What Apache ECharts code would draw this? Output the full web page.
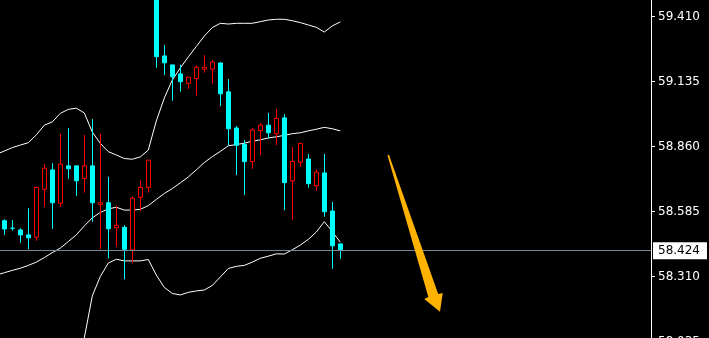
<!DOCTYPE html>
<html><head><meta charset="utf-8">
<script src="https://cdn.jsdelivr.net/npm/echarts@6/dist/echarts.min.js"></script>
<style>html,body{margin:0;padding:0;background:#000;}#c{width:709px;height:338px;}</style>
</head><body><div id="c"></div>
<script>
// Candles (index = position on the time axis)
const opens  = [58.547,58.515,58.508,58.487,58.477,58.680,58.762,58.621,58.779,58.779,58.726,58.779,58.616,58.623,58.517,58.519,58.423,58.646,58.688,59.600,59.244,59.206,59.168,59.128,59.148,59.188,59.188,59.214,59.092,58.939,58.870,58.797,58.928,58.951,58.915,58.982,58.716,58.794,58.808,58.695,58.749,58.588,58.449];
const closes = [58.512,58.515,58.487,58.475,58.688,58.769,58.623,58.786,58.767,58.716,58.779,58.623,58.623,58.513,58.528,58.426,58.642,58.688,58.803,59.241,59.215,59.156,59.135,59.154,59.196,59.196,59.218,59.084,58.936,58.866,58.797,58.931,58.951,58.919,58.980,58.708,58.798,58.874,58.704,58.752,58.585,58.441,58.424];
const lows   = [58.487,58.505,58.454,58.426,58.462,58.606,58.513,58.606,58.725,58.652,58.666,58.543,58.426,58.388,58.437,58.299,58.369,58.589,58.666,59.194,59.163,59.055,59.093,59.104,59.076,59.173,59.127,59.032,58.866,58.740,58.656,58.766,58.825,58.896,58.867,58.592,58.550,58.775,58.687,58.674,58.564,58.344,58.386];
const highs  = [58.553,58.550,58.515,58.600,58.690,58.787,58.790,58.914,58.939,58.779,58.910,58.977,58.914,58.733,58.609,58.528,58.649,58.719,58.803,59.620,59.290,59.206,59.206,59.154,59.204,59.248,59.227,59.218,59.146,58.948,58.888,58.939,58.960,59.003,59.020,58.998,58.859,58.874,58.829,58.764,58.829,58.626,58.449];

// Bollinger bands, starting one bar before the first visible candle
const bandStart = -1;
const bbUpper  = [58.827,58.842,58.856,58.867,58.877,58.910,58.951,58.965,59.001,59.018,59.023,59.003,58.922,58.874,58.839,58.825,58.810,58.807,58.817,58.846,58.969,59.066,59.142,59.193,59.240,59.284,59.328,59.364,59.382,59.379,59.382,59.382,59.382,59.389,59.396,59.399,59.399,59.393,59.385,59.375,59.365,59.345,59.371,59.388];
const bbMiddle = [58.317,58.327,58.337,58.346,58.358,58.372,58.391,58.412,58.431,58.459,58.487,58.525,58.559,58.582,58.597,58.604,58.592,58.592,58.595,58.611,58.637,58.662,58.683,58.707,58.732,58.762,58.793,58.818,58.840,58.864,58.869,58.875,58.883,58.889,58.897,58.902,58.908,58.915,58.919,58.927,58.934,58.942,58.936,58.927];
const bbLower  = [57.808,57.812,57.819,57.825,57.838,57.835,57.832,57.859,57.861,57.900,57.951,58.051,58.229,58.311,58.368,58.384,58.377,58.377,58.377,58.383,58.317,58.265,58.239,58.233,58.244,58.250,58.254,58.273,58.309,58.345,58.354,58.358,58.372,58.388,58.397,58.407,58.406,58.424,58.444,58.468,58.499,58.543,58.501,58.456];

const yTicks = [58.310, 58.585, 58.860, 59.135, 59.410];
const yTickBelow = 58.035;   // next tick, just under the visible window
const lastPrice = 58.424;
// Arrow annotation anchors [bar index, price]
const arrowFrom = [48.0, 58.825];
const arrowTo   = [54.46, 58.162];

const chart = echarts.init(document.getElementById('c'), null, {renderer: 'canvas'});
const candleData = opens.map((o, i) => [i, o, closes[i], lows[i], highs[i]]);
const band = arr => arr.map((v, k) => [bandStart + k, v]);
const lineSeries = arr => ({
  type: 'line', data: band(arr), symbol: 'none', silent: true,
  lineStyle: {color: '#ffffff', width: 1}, z: 2
});
const labelFont = {fontFamily: 'DejaVu Sans', fontSize: 12};

chart.setOption({
  backgroundColor: '#000000',
  animation: false,
  grid: {left: 0, right: 58, top: 0, bottom: 0},
  xAxis: {type: 'value', min: -0.5375, max: 80.8375, show: false},
  yAxis: {
    type: 'value', position: 'right', min: 58.0509, max: 59.4806,
    axisLine: {show: true, onZero: false, lineStyle: {color: '#ffffff', width: 1}},
    axisTick: {show: true, length: 4, lineStyle: {color: '#ffffff'}, customValues: yTicks},
    axisLabel: Object.assign({customValues: yTicks, margin: 7, color: '#ffffff',
      formatter: v => v.toFixed(3)}, labelFont),
    splitLine: {show: false}
  },
  series: [
    lineSeries(bbUpper), lineSeries(bbMiddle), lineSeries(bbLower),
    {
      type: 'candlestick', data: candleData, barWidth: 4, z: 3,
      itemStyle: {color: '#000000', color0: '#00ffff', borderColor: '#ff0000', borderColor0: '#00ffff',
        borderColorDoji: '#00ffff', borderWidth: 1},
      markLine: {
        silent: true, symbol: ['none', 'none'], animation: false,
        lineStyle: {color: '#778899', width: 1, type: 'solid'},
        label: Object.assign({show: true, position: 'end', distance: 2, formatter: lastPrice.toFixed(3),
          backgroundColor: '#ffffff', color: '#000000', lineHeight: 12, padding: [3, 7, 2, 5]}, labelFont),
        emphasis: {disabled: true},
        data: [{yAxis: lastPrice}]
      }
    }
  ]
});

// Arrow annotation drawn from its data anchors
const S = chart.convertToPixel({gridIndex: 0}, arrowFrom);
const E = chart.convertToPixel({gridIndex: 0}, arrowTo);
const dx = E[0] - S[0], dy = E[1] - S[1];
const L = Math.sqrt(dx * dx + dy * dy);
const ux = dx / L, uy = dy / L, nx = uy, ny = -ux;
const shape = [[0, 0.7], [L - 17.5, 3.9], [L - 17, 8.5], [L, 0], [L - 17, -11], [L - 17.7, -6.4], [0, -0.9]];
const pts = shape.map(([a, b]) => [S[0] + a * ux + b * nx, S[1] + a * uy + b * ny]);

// Tick label just below the window (only its top shows), placed through the axis scale
const axisX = chart.convertToPixel({xAxisIndex: 0}, 80.8375);
const belowY = chart.convertToPixel({yAxisIndex: 0}, yTickBelow);

chart.setOption({
  graphic: [
    {type: 'polygon', shape: {points: pts}, style: {fill: '#ffb300'}, z: 10, silent: true},
    {type: 'text', x: axisX + 7, y: belowY, silent: true,
      style: Object.assign({text: yTickBelow.toFixed(3), fill: '#ffffff', verticalAlign: 'middle', align: 'left'}, labelFont)}
  ]
});
</script></body></html>
